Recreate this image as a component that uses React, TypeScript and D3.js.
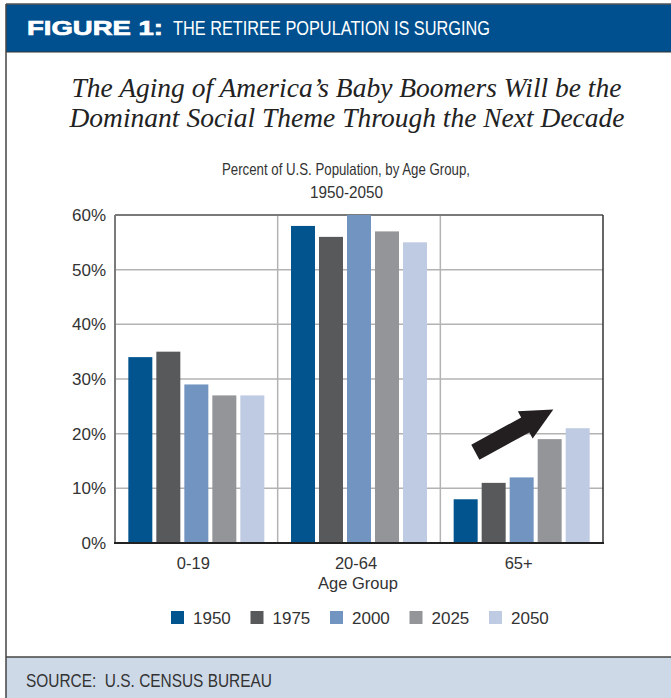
import React from "react";
import * as d3 from "d3";

// Age groups on the x axis and the census years shown within each group
const ageGroups = ["0-19", "20-64", "65+"];
const years = ["1950", "1975", "2000", "2025", "2050"];

// Percent of U.S. population per age group, one array per year
const share1950 = [34, 58, 8];
const share1975 = [35, 56, 11];
const share2000 = [29, 60, 12];
const share2025 = [27, 57, 19];
const share2050 = [27, 55, 21];
const seriesValues = [share1950, share1975, share2000, share2025, share2050];

const yTicks = [0, 10, 20, 30, 40, 50, 60];
const yearColors = ["#02548f", "#58595b", "#7294c1", "#939598", "#bfcbe3"];

const W = 671;
const H = 698;
const plot = { left: 115, right: 603, top: 215, bottom: 543 };
const sans = "'Liberation Sans', Arial, sans-serif";

export default function App() {
  const x0 = d3.scaleBand<string>().domain(ageGroups).range([plot.left, plot.right]).padding(0);
  const x1 = d3
    .scaleBand<string>()
    .domain(years)
    .range([0, x0.bandwidth()])
    .paddingInner(0.143)
    .paddingOuter(0.476);
  const y = d3.scaleLinear().domain([0, 60]).range([plot.bottom, plot.top]);

  // upward trend arrow over the 65+ group
  const g65 = x0("65+") as number;
  const a0: [number, number] = [g65 + 35, y(16.6)];
  const a1: [number, number] = [g65 + 113, y(24.4)];
  const dx = a1[0] - a0[0];
  const dy = a1[1] - a0[1];
  const len = Math.hypot(dx, dy);
  const ux = dx / len;
  const uy = dy / len;
  const nx = -uy;
  const ny = ux;
  const shaftHalf = 8.5;
  const headHalf = 15.5;
  const headLen = 32;
  const bx = a1[0] - ux * headLen;
  const by = a1[1] - uy * headLen;
  const arrowPts = [
    [a0[0] + nx * shaftHalf, a0[1] + ny * shaftHalf],
    [bx + nx * shaftHalf, by + ny * shaftHalf],
    [bx + nx * headHalf, by + ny * headHalf],
    a1,
    [bx - nx * headHalf, by - ny * headHalf],
    [bx - nx * shaftHalf, by - ny * shaftHalf],
    [a0[0] - nx * shaftHalf, a0[1] - ny * shaftHalf],
  ]
    .map((p) => p.join(","))
    .join(" ");

  const legendX = d3.scaleLinear().domain([0, years.length - 1]).range([171, 489]);

  return (
    <svg
      width={W}
      height={H}
      viewBox={`0 0 ${W} ${H}`}
      style={{ position: "absolute", left: 0, top: 0, display: "block", background: "#fff" }}
    >
      {/* header band */}
      <rect x={6} y={4} width={W - 6} height={48} fill="#00508f" />
      <line x1={6} x2={W} y1={4} y2={4} stroke="#555" strokeWidth={1.5} />
      <line x1={6} x2={W} y1={52} y2={52} stroke="#333" strokeWidth={1} />
      <text
        x={27}
        y={35}
        fill="#fff"
        fontFamily={sans}
        fontWeight="bold"
        fontSize={20.5}
        textLength={136}
        lengthAdjust="spacingAndGlyphs"
        stroke="#fff"
        strokeWidth={0.7}
      >
        FIGURE 1:
      </text>
      <text x={173} y={35} fill="#fff" fontFamily={sans} fontSize={20} textLength={317} lengthAdjust="spacingAndGlyphs">
        THE RETIREE POPULATION IS SURGING
      </text>

      {/* footer band */}
      <rect x={6} y={657} width={W - 6} height={H - 657} fill="#cdd9e7" />
      <line x1={6} x2={W} y1={657} y2={657} stroke="#444" strokeWidth={1.5} />
      <text x={26} y={686.5} fill="#333" fontFamily={sans} fontSize={18.5} textLength={246} lengthAdjust="spacingAndGlyphs">
        SOURCE:{"\u00a0\u00a0"}U.S. CENSUS BUREAU
      </text>

      {/* left frame edge */}
      <line x1={6} x2={6} y1={4} y2={H} stroke="#444" strokeWidth={1.5} />

      {/* titles */}
      <g fontFamily="'Liberation Serif', 'Times New Roman', serif" fontStyle="italic" fontSize={27.5} fill="#222" textAnchor="middle">
        <text x={346.5} y={97}>The Aging of America’s Baby Boomers Will be the</text>
        <text x={347} y={127}>Dominant Social Theme Through the Next Decade</text>
      </g>
      <g fontFamily={sans} fontSize={16.5} fill="#333">
        <text x={222} y={175} textLength={248} lengthAdjust="spacingAndGlyphs">
          Percent of U.S. Population, by Age Group,
        </text>
        <text x={310} y={198} textLength={73} lengthAdjust="spacingAndGlyphs">
          1950-2050
        </text>
      </g>

      {/* gridlines */}
      {yTicks.map((t) => (
        <line key={`g${t}`} x1={plot.left} x2={plot.right} y1={y(t)} y2={y(t)} stroke="#b3b3b3" strokeWidth={1.5} />
      ))}
      {ageGroups.slice(1).map((g) => (
        <line
          key={`v${g}`}
          x1={x0(g)}
          x2={x0(g)}
          y1={plot.top}
          y2={plot.bottom}
          stroke="#b3b3b3"
          strokeWidth={1.5}
        />
      ))}
      <line x1={plot.left} x2={plot.right} y1={plot.top} y2={plot.top} stroke="#7a7a7a" strokeWidth={2} />
      <line x1={plot.left} x2={plot.left} y1={plot.top} y2={plot.bottom} stroke="#7a7a7a" strokeWidth={2} />
      <line x1={plot.right} x2={plot.right} y1={plot.top} y2={plot.bottom} stroke="#333" strokeWidth={1.5} />

      {/* bars */}
      {ageGroups.map((g, gi) => (
        <g key={g} transform={`translate(${x0(g)},0)`}>
          {years.map((yr, yi) => {
            const v = seriesValues[yi][gi];
            return (
              <rect
                key={yr}
                x={x1(yr)}
                y={y(v)}
                width={x1.bandwidth()}
                height={y(0) - y(v)}
                fill={yearColors[yi]}
              />
            );
          })}
        </g>
      ))}
      <line x1={plot.left - 1} x2={plot.right + 1} y1={plot.bottom} y2={plot.bottom} stroke="#222" strokeWidth={2} />

      {/* y axis labels */}
      <g fontFamily={sans} fontSize={17} fill="#333" textAnchor="end">
        {yTicks.map((t) => (
          <text key={t} x={106} y={y(t) + 6}>
            {`${t}%`}
          </text>
        ))}
      </g>

      {/* x axis labels */}
      <g fontFamily={sans} fontSize={16.5} fill="#333" textAnchor="middle">
        {ageGroups.map((g) => (
          <text key={g} x={(x0(g) as number) + x0.bandwidth() / 2 - 3} y={569}>
            {g}
          </text>
        ))}
        <text x={358} y={589}>
          Age Group
        </text>
      </g>

      {/* trend arrow */}
      <polygon points={arrowPts} fill="#231f20" />

      {/* legend */}
      <g fontFamily={sans} fontSize={17} fill="#333">
        {years.map((yr, i) => (
          <g key={yr} transform={`translate(${legendX(i)},611)`}>
            <rect width={13} height={13} fill={yearColors[i]} />
            <text x={22} y={13}>
              {yr}
            </text>
          </g>
        ))}
      </g>
    </svg>
  );
}
